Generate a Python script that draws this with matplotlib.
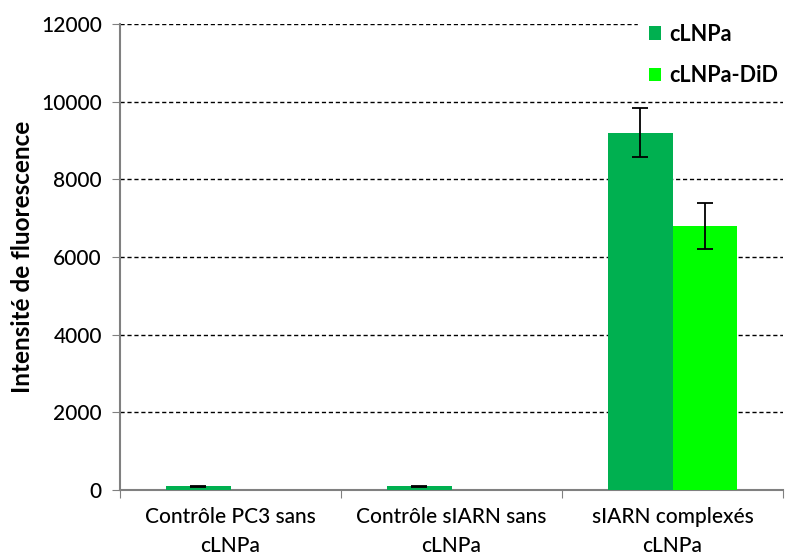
import numpy as np
import matplotlib.pyplot as plt

plt.rcParams['font.family'] = ['Lato', 'DejaVu Sans']

# Data
categories = ['Contrôle PC3 sans\ncLNPa', 'Contrôle sIARN sans\ncLNPa', 'sIARN complexés\ncLNPa']
clnpa = [100, 100, 9200]
clnpa_err = [15, 15, 630]
clnpa_did = [0, 0, 6800]
clnpa_did_err = [0, 0, 590]

fig = plt.figure(figsize=(7.85, 5.57), dpi=100)
ax = fig.add_axes([120 / 785, 1 - 490 / 557, 663 / 785, 466 / 557])

x = np.arange(len(categories))
w = 0.29
ax.bar(x - w / 2, clnpa, w, color='#00B050', label='cLNPa', zorder=3)
ax.bar(x + w / 2, clnpa_did, w, color='#00FF00', label='cLNPa-DiD', zorder=3)
ax.errorbar(x - w / 2, clnpa, yerr=clnpa_err, fmt='none', ecolor='black',
            elinewidth=1.3, capsize=6, capthick=1.3, zorder=4)
eb_x = [xi + w / 2 for xi, v in zip(x, clnpa_did) if v > 0]
eb_y = [v for v in clnpa_did if v > 0]
eb_e = [e for v, e in zip(clnpa_did, clnpa_did_err) if v > 0]
ax.errorbar(eb_x, eb_y, yerr=eb_e, fmt='none', ecolor='black',
            elinewidth=1.3, capsize=6, capthick=1.3, zorder=4)

ax.set_xlim(-0.5, 2.5)
ax.set_ylim(0, 12000)
ax.set_yticks(range(0, 12001, 2000))
ax.yaxis.grid(True, linestyle=(0, (3, 2)), color='black', linewidth=1, zorder=0)
ax.set_axisbelow(True)

ax.set_xticks([-0.5, 0.5, 1.5, 2.5])
ax.set_xticklabels([])
ax.set_xticks(x, minor=True)
ax.set_xticklabels(categories, minor=True, fontsize=15, linespacing=1.6,
                   fontweight='medium')
ax.tick_params(axis='x', which='major', length=6, color='#808080', direction='out')
ax.tick_params(axis='x', which='minor', length=0, pad=12)
ax.tick_params(axis='y', length=6, color='#808080', labelsize=15, pad=7)
for t in ax.get_yticklabels():
    t.set_fontweight('medium')

for s in ['top', 'right']:
    ax.spines[s].set_visible(False)
for s in ['left', 'bottom']:
    ax.spines[s].set_color('#808080')
    ax.spines[s].set_linewidth(1.5)

ax.set_ylabel('Intensité de fluorescence', fontsize=17.5, fontweight='bold', labelpad=5)

leg = fig.legend(loc='upper left', bbox_to_anchor=(627 / 785, 1 - 2 / 557),
                 frameon=True, fontsize=15.5, handlelength=0.6, handleheight=0.6,
                 labelspacing=0.95, handletextpad=0.35, borderpad=0.5)
leg.get_frame().set_facecolor('white')
leg.get_frame().set_edgecolor('white')
leg.get_frame().set_alpha(1)
for t in leg.get_texts():
    t.set_fontweight('bold')

fig.savefig('out.png', dpi=100)
